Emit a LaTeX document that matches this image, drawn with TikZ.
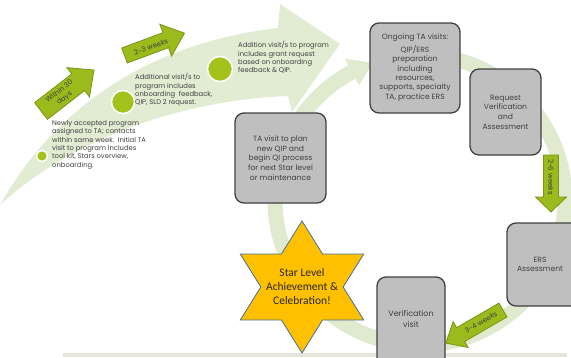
\documentclass[tikz,border=0pt]{standalone}
\usepackage{fontspec}
\setmainfont{Poppins}
\newfontfamily\starfont{Carlito}
\definecolor{swoosh}{HTML}{E2ECD3}
\definecolor{ring}{HTML}{DFEACF}
\definecolor{dotgreen}{HTML}{A4C21B}
\definecolor{arrfill}{HTML}{9BBB1C}
\definecolor{arrline}{HTML}{7A9414}
\definecolor{boxfill}{HTML}{BFBFBF}
\definecolor{boxline}{HTML}{404040}
\definecolor{txtgray}{HTML}{404040}
\definecolor{starfill}{HTML}{FFC000}
\definecolor{starline}{HTML}{41719C}
\definecolor{barcol}{HTML}{E4E6DC}
\tikzset{
  smallarrow/.style={fill=arrfill,draw=arrline,line width=0.8pt,line join=miter},
  procbox/.style={draw=boxline,fill=boxfill,line width=1.3pt,rounded corners=9pt,align=center,text=txtgray,font=\fontsize{7.6}{9.7}\selectfont,inner sep=0pt},
  boxtxt/.style={align=center,text=txtgray,font=\fontsize{7.6}{9.4}\selectfont,inner sep=0pt},
  note/.style={align=left,text=txtgray,font=\fontsize{6.8}{8.4}\selectfont,inner sep=0pt},
  arrtxt/.style={align=center,text=txtgray,font=\fontsize{7}{8.5}\selectfont,inner sep=0pt},
  gdot/.style={circle,fill=dotgreen,draw=white,line width=1.5pt,inner sep=0pt}
}
\newcommand\barrow[7]{%
  \begin{scope}[shift={(#1,#2)},rotate=#3]
    \filldraw[smallarrow] (0,{-#5/2}) -- ({#4-#7},{-#5/2}) -- ({#4-#7},{-#6/2}) -- (#4,0)
      -- ({#4-#7},{#6/2}) -- ({#4-#7},{#5/2}) -- (0,{#5/2}) -- cycle;
  \end{scope}}
\begin{document}
\begin{tikzpicture}[x=1pt,y=-1pt]
\useasboundingbox (0,0) rectangle (571,357);
% big swoosh
\fill[swoosh] (0,205) .. controls (45,125) and (130,45) .. (278,28) -- (280,4) -- (340,44)
  -- (292,112) -- (288,96) .. controls (180,100) and (70,140) .. (0,205) -- cycle;
% bottom bar
\fill[barcol] (63,353) rectangle (567,357);
% ring arrow
\draw[ring,line width=15pt] plot[smooth,domain=-100:243,samples=120] ({420+145*cos(\x)},{200+145*sin(\x)});
\fill[ring] ({420+160*cos(242)},{200+160*sin(242)}) -- ({420+145*cos(251)},{200+145*sin(251)})
  -- ({420+130*cos(242)},{200+130*sin(242)}) -- cycle;
% dots
\node[gdot,minimum size=11pt] (d1) at (42,156) {};
\node[gdot,minimum size=23pt] (d2) at (123,102) {};
\node[gdot,minimum size=25pt] (d3) at (220,69) {};
% notes
\node[note,anchor=north west] (n1) at (52,120) {Newly accepted program\\assigned to TA; contacts\\within same week.\ \ Initial TA\\visit to program includes\\tool kit, Stars overview,\\onboarding.};
\node[note,anchor=north west] (n2) at (135,73) {Additional visit/s to\\program includes\\onboarding\ \ feedback,\\QIP, SLD 2 request.};
\node[note,anchor=north west] (n3) at (238,41) {Addition visit/s to program\\includes grant request\\based on onboarding\\feedback \& QIP.};
% small arrows
\barrow{41}{111}{37.7}{67}{21}{37}{20}
\node[arrtxt,rotate=37.7] (a1) at (62,95) {Within 30\\days};
\barrow{124.5}{55.5}{20.4}{64}{16}{34}{20}
\node[arrtxt,rotate=20.4] (a2) at (151,47) {2-3 weeks};
\barrow{551}{155}{-90}{57}{15}{31}{15}
\node[arrtxt,rotate=-90] (a3) at (551,177) {2-6 weeks};
\barrow{503}{310}{210.1}{66}{16}{30}{17}
\node[arrtxt,rotate=30.1] (a4) at (481,322) {3-4 weeks};
% boxes
\node[procbox,minimum width=90pt,minimum height=90pt] (ongo) at (415,68) {};
\node[boxtxt,anchor=north] (ongot) at (415,34) {Ongoing TA visits:\\[3pt]QIP/ERS\\preparation\\including\\resources,\\supports, specialty\\TA, practice ERS};
\node[procbox,minimum width=71pt,minimum height=86pt] (req) at (505.5,112) {Request\\Verification\\and\\Assessment};
\node[procbox,minimum width=91pt,minimum height=90pt] (tav) at (280.5,158) {TA visit to plan\\new QIP and\\begin QI process\\for next Star level\\or maintenance};
\node[procbox,minimum width=74pt,minimum height=83pt] (ers) at (544,264.5) {};
\node[boxtxt] (erst) at (540,264.5) {ERS\\Assessment};
\node[procbox,minimum width=68pt,minimum height=90pt] (ver) at (411,322) {};
\node[boxtxt,font=\fontsize{8}{11}\selectfont] (vert) at (411,319) {Verification\\visit};
% star
\begin{scope}[shift={(302,287)},xscale=1.08]
\filldraw[fill=starfill,draw=starline,line width=0.8pt,line join=miter]
  (90:66) -- (60:38.1) -- (30:66) -- (0:38.1) -- (-30:66) -- (-60:38.1) -- (-90:66)
  -- (-120:38.1) -- (-150:66) -- (180:38.1) -- (150:66) -- (120:38.1) -- cycle;
\end{scope}
\node[align=center,font=\starfont\fontsize{11.5}{14}\selectfont,text=black!85,inner sep=0pt] (star) at (302,287) {Star Level\\Achievement \&\\Celebration!};
\end{tikzpicture}
\end{document}
